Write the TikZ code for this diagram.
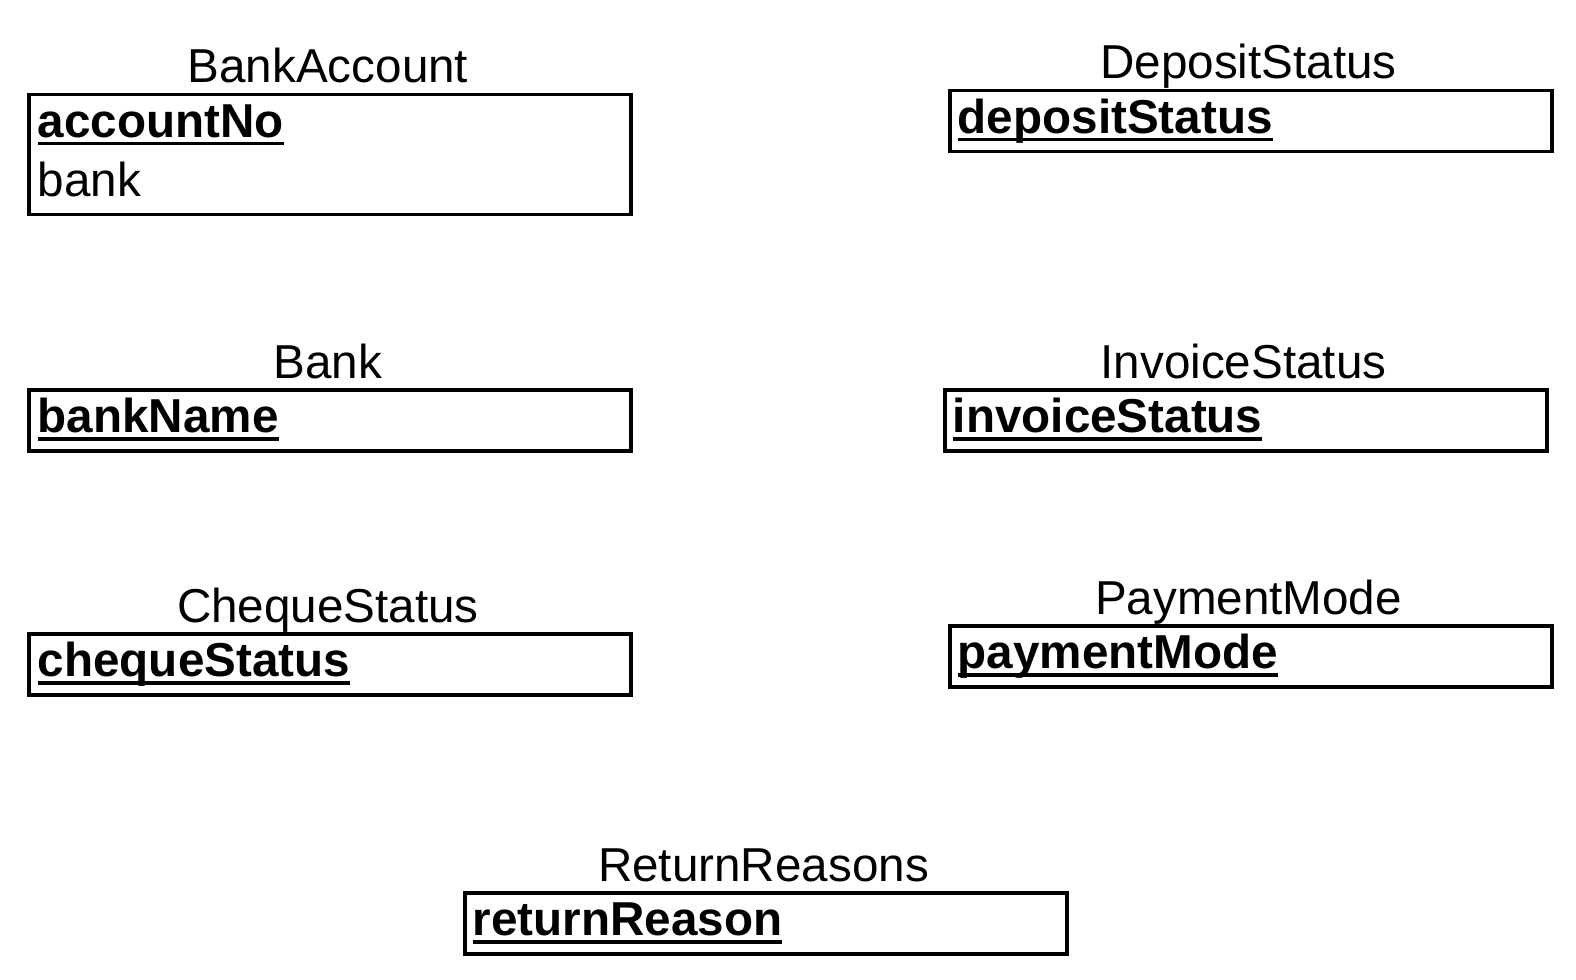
\documentclass[tikz,border=0pt]{standalone}
\usepackage{fontspec}
\setmainfont{Liberation Sans}
\usetikzlibrary{positioning}
\newcommand{\pkey}[1]{\setbox0\hbox{\bfseries #1}\rlap{\rule[-4.2pt]{\wd0}{1.8pt}}\box0}

\begin{document}
\begin{tikzpicture}[x=0.5pt,y=-0.5pt,
    entity/.style={draw,line width=1.8pt,minimum width=301pt,minimum height=30.5pt,anchor=north west,inner sep=0pt},
    etitle/.style={anchor=base,inner sep=0pt,font=\fontsize{23.8}{28}\selectfont},
    attr/.style={anchor=base west,inner sep=0pt,font=\fontsize{23.8}{28}\selectfont}]
    \useasboundingbox (0,0) rectangle (1576,980);

    % left column
    \node[entity,minimum height=60pt] (bankAccount) at (27,92.5) {};
    \node[etitle] (bankAccountT) at (328,82.5) {BankAccount};
    \node[attr] (accountNo) at (37.5,137) {\pkey{accountNo}};
    \node[attr] (bank) at (37.5,196) {bank};

    \node[entity] (bankE) at (27,388) {};
    \node[etitle] (bankT) at (328,378) {Bank};
    \node[attr] (bankName) at (37.5,432.5) {\pkey{bankName}};

    \node[entity] (chequeStatusE) at (27,632) {};
    \node[etitle] (chequeStatusT) at (328,622) {ChequeStatus};
    \node[attr] (chequeStatus) at (37.5,676.5) {\pkey{chequeStatus}};

    % right column
    \node[entity] (depositStatusE) at (948,88.5) {};
    \node[etitle] (depositStatusT) at (1248.5,78.5) {DepositStatus};
    \node[attr] (depositStatus) at (957.5,133) {\pkey{depositStatus}};

    \node[entity] (invoiceStatusE) at (943,388) {};
    \node[etitle] (invoiceStatusT) at (1243.5,378) {InvoiceStatus};
    \node[attr] (invoiceStatus) at (952.5,432.5) {\pkey{invoiceStatus}};

    \node[entity] (paymentModeE) at (948,624) {};
    \node[etitle] (paymentModeT) at (1248.5,614) {PaymentMode};
    \node[attr] (paymentMode) at (957.5,668.5) {\pkey{paymentMode}};

    % bottom
    \node[entity] (returnReasonsE) at (463,891) {};
    \node[etitle] (returnReasonsT) at (763.5,881) {ReturnReasons};
    \node[attr] (returnReason) at (472.5,935.5) {\pkey{returnReason}};

\end{tikzpicture}
\end{document}
